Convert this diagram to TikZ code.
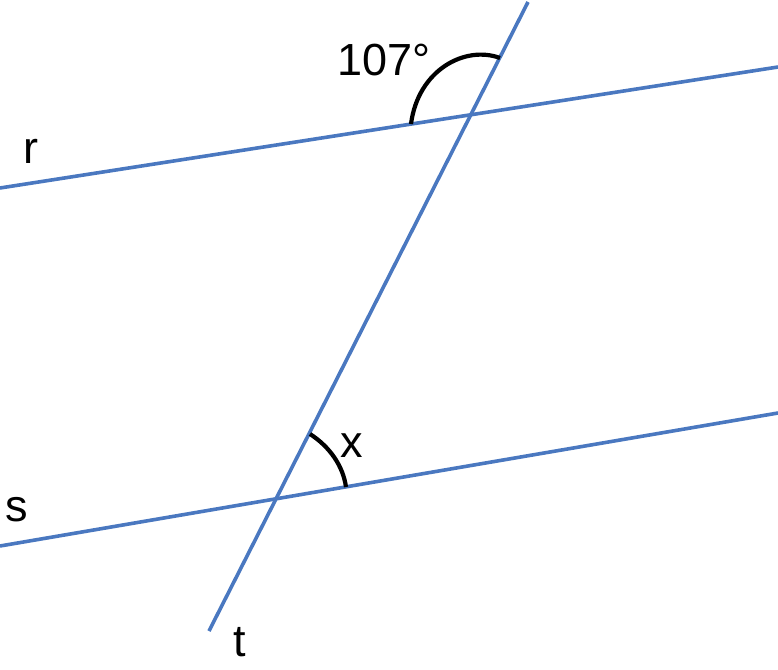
\documentclass[tikz,border=0pt]{standalone}
\usepackage{fontspec}
\setmainfont{Liberation Sans}
\definecolor{lineblue}{RGB}{74,120,192}
\begin{document}
\begin{tikzpicture}[x=1pt,y=-1pt,
  blueline/.style={lineblue,line width=3.6pt},
  anglearc/.style={black,line width=4.2pt},
  lbl/.style={font=\fontsize{45}{50}\selectfont,inner sep=0pt,anchor=base}]
\useasboundingbox (0,0) rectangle (778,669);
% line endpoints
\coordinate (r1) at (0,188);
\coordinate (r2) at (778,67);
\coordinate (s1) at (0,546);
\coordinate (s2) at (778,413);
\coordinate (t1) at (209,631);
\coordinate (t2) at (528,2);
\draw[blueline] (r1) -- (r2);
\draw[blueline] (s1) -- (s2);
\draw[blueline] (t1) -- (t2);
% angle arcs
\coordinate (a1) at (411,124);
\coordinate (b1) at (500,58);
\draw[anglearc] (a1) .. controls (418,70) and (465,45) .. (b1);
\coordinate (a2) at (310,434);
\coordinate (b2) at (346,487);
\draw[anglearc] (a2) .. controls (330,447) and (343,466) .. (b2);
% labels
\node[lbl] (lr) at (31,163) {r};
\node[lbl] (ls) at (17,521) {s};
\node[lbl] (lt) at (240,656) {t};
\node[lbl] (lx) at (352,457) {x};
\node[lbl,anchor=base west] (l107) at (337,75) {107°};
\end{tikzpicture}
\end{document}
